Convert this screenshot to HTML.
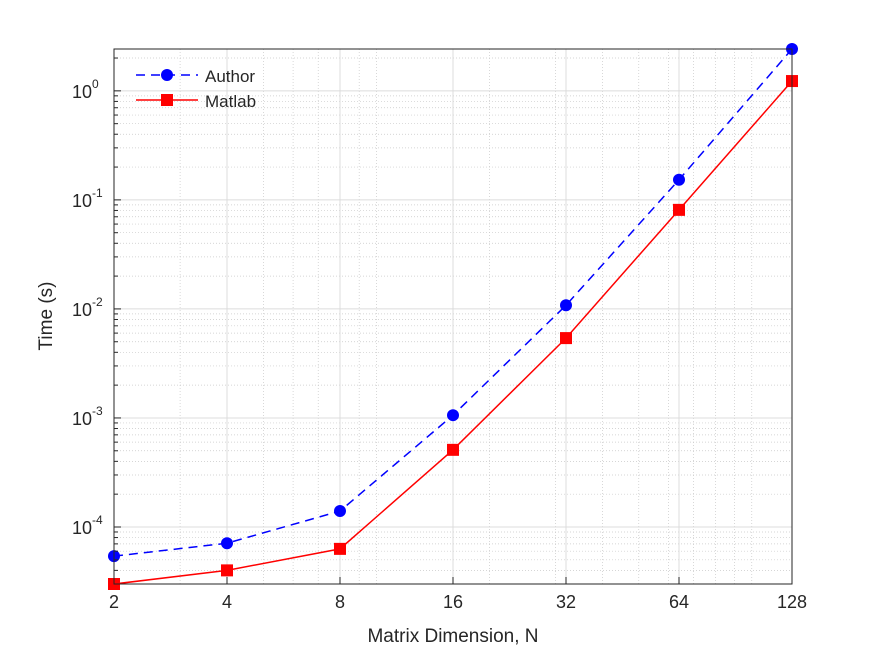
<!DOCTYPE html>
<html><head><meta charset="utf-8"><style>
body{margin:0;background:#fff}
svg text{font-family:"Liberation Sans",Arial,sans-serif;fill:#262626}
</style></head><body>
<svg width="875" height="656" viewBox="0 0 875 656">
<rect width="875" height="656" fill="#fff"/>
<g id="grid"></g>
<g id="series"></g>
<rect x="114" y="49" width="678" height="535" fill="none" stroke="#262626" stroke-width="1"/>
<g id="ticks"></g>
<text x="453" y="642" font-size="19" text-anchor="middle">Matrix Dimension, N</text>
<text transform="translate(52,316) rotate(-90)" font-size="19" text-anchor="middle">Time (s)</text>
<g>
 <g>
  <line x1="136" y1="75" x2="198" y2="75" stroke="#0000ff" stroke-width="1.5" stroke-dasharray="9,6"/>
  <circle cx="167" cy="75" r="6" fill="#0000ff"/>
  <text x="205" y="82" font-size="17">Author</text>
 </g>
 <g>
  <line x1="136" y1="100" x2="198" y2="100" stroke="#ff0000" stroke-width="1.5"/>
  <rect x="161" y="94" width="12" height="12" fill="#ff0000"/>
  <text x="205" y="107" font-size="17">Matlab</text>
 </g>
</g>
</svg>
<script>
const categories=[2,4,8,16,32,64,128];
const authorTimes=[5.4e-5,7.1e-5,1.4e-4,1.06e-3,0.0108,0.153,2.42];
const matlabTimes=[3.0e-5,4.0e-5,6.3e-5,5.1e-4,5.4e-3,0.081,1.23];
const xTickLabels=["2","4","8","16","32","64","128"];
const yDecades=[-4,-3,-2,-1,0];
const NS="http://www.w3.org/2000/svg";
const L=114,R=792,T=49,B=584;
const yMin=Math.log10(3e-5),yMax=Math.log10(2.42);
function xs(v){return L+(Math.log2(v)-1)/6*(R-L);}
function ys(v){return B-(Math.log10(v)-yMin)/(yMax-yMin)*(B-T);}
function mk(tag,attrs,parent){const e=document.createElementNS(NS,tag);for(const k in attrs)e.setAttribute(k,attrs[k]);parent.appendChild(e);return e;}
const grid=document.getElementById('grid'),ticks=document.getElementById('ticks'),series=document.getElementById('series');
// minor grid
for(let d=-5;d<=0;d++)for(let m=2;m<=9;m++){const v=m*Math.pow(10,d);const y=ys(v);if(y<T||y>B)continue;
 const g=mk('line',{x1:L,x2:R,y1:y,y2:y,stroke:'#c8c8c8','stroke-width':0.7,'stroke-dasharray':'1,2'},grid);
 
 mk('line',{x1:L,x2:L+4,y1:y,y2:y,stroke:'#262626'},ticks);}
for(let d=0;d<=2;d++)for(let m=1;m<=9;m++){const v=m*Math.pow(10,d);if(v<=2||v>=128||[4,8,16,32,64].includes(v))continue;const x=xs(v);
 const g=mk('line',{x1:x,x2:x,y1:T,y2:B,stroke:'#c8c8c8','stroke-width':0.7,'stroke-dasharray':'1,2'},grid);
 }
yDecades.forEach(d=>{const y=ys(Math.pow(10,d));
 const g=mk('line',{x1:L,x2:R,y1:y,y2:y,stroke:'#dcdcdc','stroke-width':1},grid);
 
 mk('line',{x1:L,x2:L+7,y1:y,y2:y,stroke:'#262626'},ticks);
 const t=mk('text',{x:L-22,y:y+7,'font-size':18,'text-anchor':'end'},ticks);
 t.textContent='10';
 
 const s=mk('text',{x:L-22,y:y-3,'font-size':12,'text-anchor':'start'},ticks);s.textContent=String(d);
});
categories.forEach((c,i)=>{const x=xs(c);
 const g=mk('line',{x1:x,x2:x,y1:T,y2:B,stroke:'#dcdcdc','stroke-width':1},grid);
 
 mk('line',{x1:x,x2:x,y1:B,y2:B-7,stroke:'#262626'},ticks);
 const t=mk('text',{x:x,y:B+24,'font-size':18,'text-anchor':'middle'},ticks);t.textContent=xTickLabels[i];
 });
function line(vals,color,dash,name){const p=mk('polyline',{points:vals.map((v,i)=>xs(categories[i])+','+ys(v)).join(' '),fill:'none',stroke:color,'stroke-width':1.5,'stroke-dasharray':dash},series);
 }
line(authorTimes,'#0000ff','9,6','author-line');
line(matlabTimes,'#ff0000','none','matlab-line');
authorTimes.forEach((v,i)=>{const c=mk('circle',{cx:xs(categories[i]),cy:ys(v),r:6,fill:'#0000ff'},series);
 });
matlabTimes.forEach((v,i)=>{const r=mk('rect',{x:xs(categories[i])-6,y:ys(v)-6,width:12,height:12,fill:'#ff0000'},series);
 });
</script>
</body></html>
